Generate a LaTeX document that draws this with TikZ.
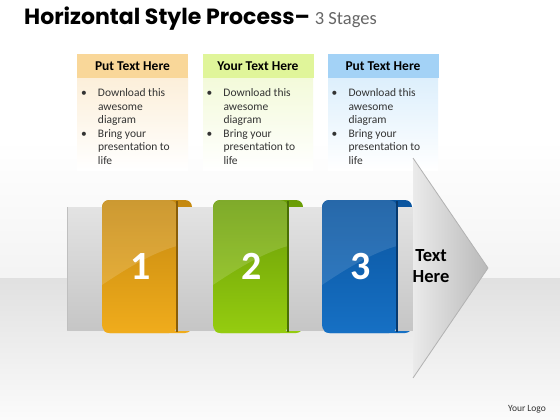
\documentclass[tikz,border=0pt]{standalone}
\usepackage{fontspec}
\setmainfont{Carlito}
\newfontfamily\titlefont{Poppins}
\usepackage{xcolor}
\usetikzlibrary{positioning}

\definecolor{orTop}{HTML}{C4880F}
\definecolor{orBot}{HTML}{F0AC1C}
\definecolor{orEdge}{HTML}{8A5E08}
\definecolor{grTop}{HTML}{699C06}
\definecolor{grBot}{HTML}{95CC10}
\definecolor{grEdge}{HTML}{4A7004}
\definecolor{blTop}{HTML}{0A549E}
\definecolor{blBot}{HTML}{1670C4}
\definecolor{blEdge}{HTML}{063A70}
\definecolor{orHead}{HTML}{F9D799}
\definecolor{grHead}{HTML}{E0F59A}
\definecolor{blHead}{HTML}{A3D2F6}
\definecolor{orBody}{HTML}{FCEFDA}
\definecolor{grBody}{HTML}{F3FADA}
\definecolor{blBody}{HTML}{DDEFFC}

\begin{document}
\begin{tikzpicture}[
    x=1pt, y=-1pt,
    headbox/.style={minimum width=111pt, minimum height=24pt, inner sep=0pt, font=\fontsize{13.5}{16}\selectfont\bfseries},
    bodytext/.style={inner sep=0pt, text=black!80, font=\fontsize{11.5}{13.5}\selectfont},
    number/.style={anchor=base, text=white, font=\fontsize{40}{44}\selectfont\bfseries},
    foldline/.style={line width=1.3pt}
]
\useasboundingbox (0,0) rectangle (560,420);

% fond
\fill[white] (0,0) rectangle (560,420);
\shade[top color=white, bottom color=gray!9] (0,140) rectangle (560,278);
\shade[top color=gray!24, bottom color=gray!3] (0,278) rectangle (560,420);

% titre
\node[anchor=base west, inner sep=0pt] (title) at (24,25)
  {{\titlefont\fontsize{22}{26}\selectfont\bfseries Horizontal Style Process–}\hspace{5pt}{\color{black!60}\fontsize{18.5}{22}\selectfont 3 Stages}};

% cadres de texte
\shade[top color=orBody, bottom color=white] (77,78) rectangle (188,170);
\shade[top color=grBody, bottom color=white] (203,78) rectangle (313,170);
\shade[top color=blBody, bottom color=white] (328,78) rectangle (438,170);
\node[headbox, fill=orHead] (head1) at (132.5,66) {Put Text Here};
\node[headbox, fill=grHead] (head2) at (258,66) {Your Text Here};
\node[headbox, fill=blHead] (head3) at (383,66) {Put Text Here};

\node[bodytext, below right=9pt and 4pt of head1.south west] (body1)
  {\begin{tabular}{@{}p{17pt}@{}l@{}}\textbullet&Download this\\&awesome\\&diagram\\\textbullet&Bring your\\&presentation to\\&life\end{tabular}};
\node[bodytext, below right=9pt and 4pt of head2.south west] (body2)
  {\begin{tabular}{@{}p{17pt}@{}l@{}}\textbullet&Download this\\&awesome\\&diagram\\\textbullet&Bring your\\&presentation to\\&life\end{tabular}};
\node[bodytext, below right=9pt and 4pt of head3.south west] (body3)
  {\begin{tabular}{@{}p{17pt}@{}l@{}}\textbullet&Download this\\&awesome\\&diagram\\\textbullet&Bring your\\&presentation to\\&life\end{tabular}};

% rabats derriere la barre
\shade[top color=orTop, bottom color=orBot, rounded corners=7pt] (102,200) rectangle (192,333);
\shade[top color=grTop, bottom color=grBot, rounded corners=7pt] (213,200) rectangle (303,333);
\shade[top color=blTop, bottom color=blBot, rounded corners=7pt] (322,200) rectangle (412,333);

% barre et fleche
\shade[top color=gray!22, middle color=gray!5, bottom color=gray!45] (67,207) rectangle (413,330);
\draw[gray!50, line width=1pt] (67.5,207) -- (67.5,330);
\shade[left color=gray!16, right color=gray!55] (413,158) -- (488,268) -- (413,378) -- cycle;
\draw[gray!60, line width=.8pt] (413,158) -- (488,268) -- (413,378);

% etape 1
\begin{scope}
  \clip[rounded corners=8pt] (102,200) rectangle (177,333);
  \shade[top color=orTop, bottom color=orBot] (102,200) rectangle (177,333);
  \fill[white, opacity=.15] (102,285) .. controls (130,266) and (155,252) .. (177,246) -- (177,200) -- (102,200) -- cycle;
\end{scope}
\draw[orEdge, foldline] (177,201) -- (177,332);

% etape 2
\begin{scope}
  \clip[rounded corners=8pt] (213,200) rectangle (288,333);
  \shade[top color=grTop, bottom color=grBot] (213,200) rectangle (288,333);
  \fill[white, opacity=.15] (213,285) .. controls (241,266) and (266,252) .. (288,246) -- (288,200) -- (213,200) -- cycle;
\end{scope}
\draw[grEdge, foldline] (288,201) -- (288,332);

% etape 3
\begin{scope}
  \clip[rounded corners=8pt] (322,200) rectangle (397,333);
  \shade[top color=blTop, bottom color=blBot] (322,200) rectangle (397,333);
  \fill[white, opacity=.12] (322,285) .. controls (350,266) and (375,252) .. (397,246) -- (397,200) -- (322,200) -- cycle;
\end{scope}
\draw[blEdge, foldline] (397,201) -- (397,332);

% chiffres
\node[number] (num1) at (141,279) {1};
\node[number] (num2) at (252,279) {2};
\node[number] (num3) at (361,279) {3};

\node[align=center, font=\fontsize{18.5}{21}\selectfont\bfseries] (tip) at (431,266.5) {Text\\Here};

\node[anchor=base, inner sep=0pt, font=\fontsize{9.5}{11}\selectfont, text=black!80] (logo) at (527,411) {Your Logo};

\end{tikzpicture}
\end{document}
